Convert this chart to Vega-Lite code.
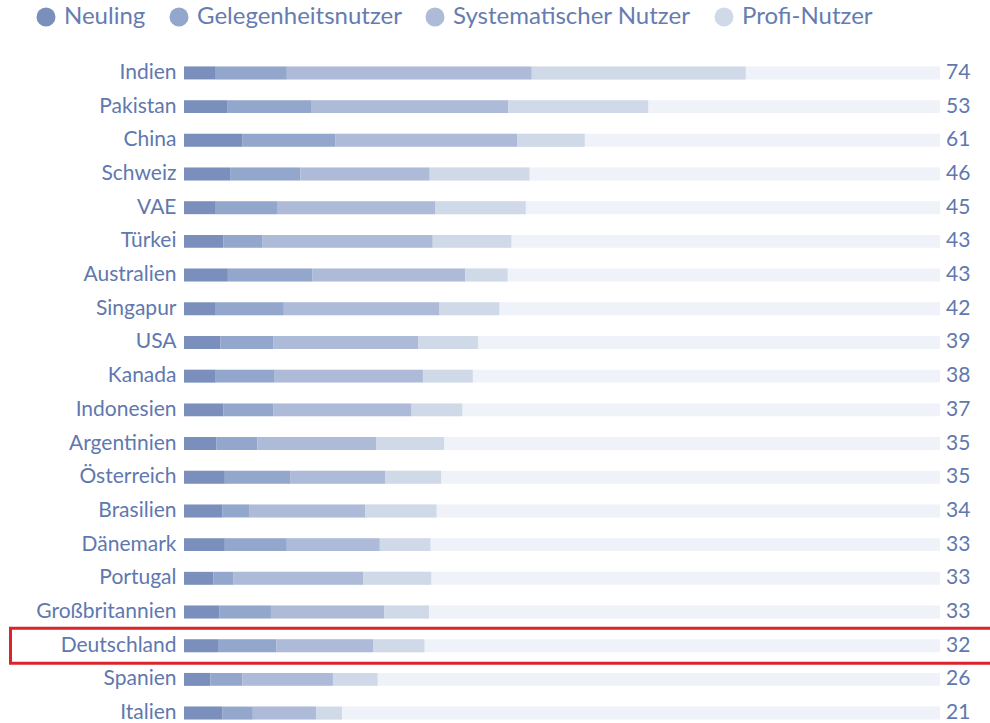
{
  "$schema": "https://vega.github.io/schema/vega-lite/v6.json",
  "autosize": {"type": "none"},
  "padding": {"left": 184, "top": 56, "right": 50, "bottom": 0},
  "width": 756,
  "height": 674,
  "background": "white",
  "config": {"view": {"stroke": null}, "font": "Lato"},
  "datasets": {
    "laender": [
      {"land": "Indien", "gesamt": 74},
      {"land": "Pakistan", "gesamt": 53},
      {"land": "China", "gesamt": 61},
      {"land": "Schweiz", "gesamt": 46},
      {"land": "VAE", "gesamt": 45},
      {"land": "Türkei", "gesamt": 43},
      {"land": "Australien", "gesamt": 43},
      {"land": "Singapur", "gesamt": 42},
      {"land": "USA", "gesamt": 39},
      {"land": "Kanada", "gesamt": 38},
      {"land": "Indonesien", "gesamt": 37},
      {"land": "Argentinien", "gesamt": 35},
      {"land": "Österreich", "gesamt": 35},
      {"land": "Brasilien", "gesamt": 34},
      {"land": "Dänemark", "gesamt": 33},
      {"land": "Portugal", "gesamt": 33},
      {"land": "Großbritannien", "gesamt": 33},
      {"land": "Deutschland", "gesamt": 32},
      {"land": "Spanien", "gesamt": 26},
      {"land": "Italien", "gesamt": 21}
    ],
    "werte": [
      {"land": "Indien", "stufe": 1, "typ": "Neuling", "wert": 4.1},
      {"land": "Indien", "stufe": 2, "typ": "Gelegenheitsnutzer", "wert": 9.5},
      {"land": "Indien", "stufe": 3, "typ": "Systematischer Nutzer", "wert": 32.4},
      {"land": "Indien", "stufe": 4, "typ": "Profi-Nutzer", "wert": 28.3},
      {"land": "Pakistan", "stufe": 1, "typ": "Neuling", "wert": 5.7},
      {"land": "Pakistan", "stufe": 2, "typ": "Gelegenheitsnutzer", "wert": 11.1},
      {"land": "Pakistan", "stufe": 3, "typ": "Systematischer Nutzer", "wert": 26.1},
      {"land": "Pakistan", "stufe": 4, "typ": "Profi-Nutzer", "wert": 18.5},
      {"land": "China", "stufe": 1, "typ": "Neuling", "wert": 7.7},
      {"land": "China", "stufe": 2, "typ": "Gelegenheitsnutzer", "wert": 12.3},
      {"land": "China", "stufe": 3, "typ": "Systematischer Nutzer", "wert": 24.1},
      {"land": "China", "stufe": 4, "typ": "Profi-Nutzer", "wert": 8.9},
      {"land": "Schweiz", "stufe": 1, "typ": "Neuling", "wert": 6.1},
      {"land": "Schweiz", "stufe": 2, "typ": "Gelegenheitsnutzer", "wert": 9.3},
      {"land": "Schweiz", "stufe": 3, "typ": "Systematischer Nutzer", "wert": 17.1},
      {"land": "Schweiz", "stufe": 4, "typ": "Profi-Nutzer", "wert": 13.2},
      {"land": "VAE", "stufe": 1, "typ": "Neuling", "wert": 4.1},
      {"land": "VAE", "stufe": 2, "typ": "Gelegenheitsnutzer", "wert": 8.2},
      {"land": "VAE", "stufe": 3, "typ": "Systematischer Nutzer", "wert": 20.9},
      {"land": "VAE", "stufe": 4, "typ": "Profi-Nutzer", "wert": 12.0},
      {"land": "Türkei", "stufe": 1, "typ": "Neuling", "wert": 5.2},
      {"land": "Türkei", "stufe": 2, "typ": "Gelegenheitsnutzer", "wert": 5.2},
      {"land": "Türkei", "stufe": 3, "typ": "Systematischer Nutzer", "wert": 22.5},
      {"land": "Türkei", "stufe": 4, "typ": "Profi-Nutzer", "wert": 10.4},
      {"land": "Australien", "stufe": 1, "typ": "Neuling", "wert": 5.8},
      {"land": "Australien", "stufe": 2, "typ": "Gelegenheitsnutzer", "wert": 11.2},
      {"land": "Australien", "stufe": 3, "typ": "Systematischer Nutzer", "wert": 20.2},
      {"land": "Australien", "stufe": 4, "typ": "Profi-Nutzer", "wert": 5.6},
      {"land": "Singapur", "stufe": 1, "typ": "Neuling", "wert": 4.1},
      {"land": "Singapur", "stufe": 2, "typ": "Gelegenheitsnutzer", "wert": 9.1},
      {"land": "Singapur", "stufe": 3, "typ": "Systematischer Nutzer", "wert": 20.6},
      {"land": "Singapur", "stufe": 4, "typ": "Profi-Nutzer", "wert": 7.9},
      {"land": "USA", "stufe": 1, "typ": "Neuling", "wert": 4.8},
      {"land": "USA", "stufe": 2, "typ": "Gelegenheitsnutzer", "wert": 7.0},
      {"land": "USA", "stufe": 3, "typ": "Systematischer Nutzer", "wert": 19.2},
      {"land": "USA", "stufe": 4, "typ": "Profi-Nutzer", "wert": 7.9},
      {"land": "Kanada", "stufe": 1, "typ": "Neuling", "wert": 4.2},
      {"land": "Kanada", "stufe": 2, "typ": "Gelegenheitsnutzer", "wert": 7.8},
      {"land": "Kanada", "stufe": 3, "typ": "Systematischer Nutzer", "wert": 19.6},
      {"land": "Kanada", "stufe": 4, "typ": "Profi-Nutzer", "wert": 6.6},
      {"land": "Indonesien", "stufe": 1, "typ": "Neuling", "wert": 5.2},
      {"land": "Indonesien", "stufe": 2, "typ": "Gelegenheitsnutzer", "wert": 6.6},
      {"land": "Indonesien", "stufe": 3, "typ": "Systematischer Nutzer", "wert": 18.3},
      {"land": "Indonesien", "stufe": 4, "typ": "Profi-Nutzer", "wert": 6.7},
      {"land": "Argentinien", "stufe": 1, "typ": "Neuling", "wert": 4.3},
      {"land": "Argentinien", "stufe": 2, "typ": "Gelegenheitsnutzer", "wert": 5.4},
      {"land": "Argentinien", "stufe": 3, "typ": "Systematischer Nutzer", "wert": 15.7},
      {"land": "Argentinien", "stufe": 4, "typ": "Profi-Nutzer", "wert": 9.0},
      {"land": "Österreich", "stufe": 1, "typ": "Neuling", "wert": 5.4},
      {"land": "Österreich", "stufe": 2, "typ": "Gelegenheitsnutzer", "wert": 8.7},
      {"land": "Österreich", "stufe": 3, "typ": "Systematischer Nutzer", "wert": 12.5},
      {"land": "Österreich", "stufe": 4, "typ": "Profi-Nutzer", "wert": 7.4},
      {"land": "Brasilien", "stufe": 1, "typ": "Neuling", "wert": 5.1},
      {"land": "Brasilien", "stufe": 2, "typ": "Gelegenheitsnutzer", "wert": 3.5},
      {"land": "Brasilien", "stufe": 3, "typ": "Systematischer Nutzer", "wert": 15.4},
      {"land": "Brasilien", "stufe": 4, "typ": "Profi-Nutzer", "wert": 9.4},
      {"land": "Dänemark", "stufe": 1, "typ": "Neuling", "wert": 5.4},
      {"land": "Dänemark", "stufe": 2, "typ": "Gelegenheitsnutzer", "wert": 8.2},
      {"land": "Dänemark", "stufe": 3, "typ": "Systematischer Nutzer", "wert": 12.3},
      {"land": "Dänemark", "stufe": 4, "typ": "Profi-Nutzer", "wert": 6.7},
      {"land": "Portugal", "stufe": 1, "typ": "Neuling", "wert": 3.9},
      {"land": "Portugal", "stufe": 2, "typ": "Gelegenheitsnutzer", "wert": 2.6},
      {"land": "Portugal", "stufe": 3, "typ": "Systematischer Nutzer", "wert": 17.2},
      {"land": "Portugal", "stufe": 4, "typ": "Profi-Nutzer", "wert": 9.0},
      {"land": "Großbritannien", "stufe": 1, "typ": "Neuling", "wert": 4.7},
      {"land": "Großbritannien", "stufe": 2, "typ": "Gelegenheitsnutzer", "wert": 6.8},
      {"land": "Großbritannien", "stufe": 3, "typ": "Systematischer Nutzer", "wert": 15.0},
      {"land": "Großbritannien", "stufe": 4, "typ": "Profi-Nutzer", "wert": 5.9},
      {"land": "Deutschland", "stufe": 1, "typ": "Neuling", "wert": 4.5},
      {"land": "Deutschland", "stufe": 2, "typ": "Gelegenheitsnutzer", "wert": 7.7},
      {"land": "Deutschland", "stufe": 3, "typ": "Systematischer Nutzer", "wert": 12.8},
      {"land": "Deutschland", "stufe": 4, "typ": "Profi-Nutzer", "wert": 6.8},
      {"land": "Spanien", "stufe": 1, "typ": "Neuling", "wert": 3.5},
      {"land": "Spanien", "stufe": 2, "typ": "Gelegenheitsnutzer", "wert": 4.2},
      {"land": "Spanien", "stufe": 3, "typ": "Systematischer Nutzer", "wert": 12.0},
      {"land": "Spanien", "stufe": 4, "typ": "Profi-Nutzer", "wert": 5.9},
      {"land": "Italien", "stufe": 1, "typ": "Neuling", "wert": 5.1},
      {"land": "Italien", "stufe": 2, "typ": "Gelegenheitsnutzer", "wert": 4.0},
      {"land": "Italien", "stufe": 3, "typ": "Systematischer Nutzer", "wert": 8.4},
      {"land": "Italien", "stufe": 4, "typ": "Profi-Nutzer", "wert": 3.4}
    ]
  },
  "layer": [
    {
      "data": {"name": "laender"},
      "mark": {"type": "bar", "color": "#eff2f8", "cornerRadius": 0},
      "encoding": {
        "y": {
          "field": "land", "type": "nominal",
          "sort": ["Indien","Pakistan","China","Schweiz","VAE","Türkei","Australien","Singapur","USA","Kanada","Indonesien","Argentinien","Österreich","Brasilien","Dänemark","Portugal","Großbritannien","Deutschland","Spanien","Italien"],
          "scale": {"type": "band", "paddingInner": 0.616, "paddingOuter": 0.31},
          "axis": {"title": null, "ticks": false, "domain": false, "labelFontSize": 21, "labelColor": "#6078ae", "labelPadding": 8, "labelFont": "Lato"}
        },
        "x": {"datum": 100, "type": "quantitative", "scale": {"domain": [0, 100], "nice": false, "zero": true}, "axis": null}
      }
    },
    {
      "data": {"name": "werte"},
      "mark": {"type": "bar"},
      "encoding": {
        "y": {"field": "land", "type": "nominal", "sort": ["Indien","Pakistan","China","Schweiz","VAE","Türkei","Australien","Singapur","USA","Kanada","Indonesien","Argentinien","Österreich","Brasilien","Dänemark","Portugal","Großbritannien","Deutschland","Spanien","Italien"]},
        "x": {"field": "wert", "type": "quantitative", "stack": "zero", "axis": null},
        "order": {"field": "stufe", "type": "quantitative"},
        "color": {
          "field": "typ", "type": "nominal",
          "sort": ["Neuling", "Gelegenheitsnutzer", "Systematischer Nutzer", "Profi-Nutzer"],
          "scale": {"domain": ["Neuling", "Gelegenheitsnutzer", "Systematischer Nutzer", "Profi-Nutzer"], "range": ["#7a8fbc", "#93a6cb", "#adbbd8", "#d0d9e8"]},
          "legend": {
            "orient": "none", "legendX": -150, "legendY": -51, "direction": "horizontal",
            "title": null, "symbolType": "circle", "symbolSize": 361, "symbolStrokeWidth": 0,
            "symbolOpacity": 1, "labelFontSize": 24, "labelColor": "#667cb1", "labelFont": "Lato",
            "labelOffset": 6, "columnPadding": 21, "labelLimit": 0
          }
        }
      }
    },
    {
      "data": {"name": "laender"},
      "mark": {"type": "text", "align": "left", "baseline": "middle", "dx": 6, "fontSize": 21, "color": "#6078ae", "font": "Lato"},
      "encoding": {
        "y": {"field": "land", "type": "nominal", "sort": ["Indien","Pakistan","China","Schweiz","VAE","Türkei","Australien","Singapur","USA","Kanada","Indonesien","Argentinien","Österreich","Brasilien","Dänemark","Portugal","Großbritannien","Deutschland","Spanien","Italien"]},
        "x": {"datum": 100, "type": "quantitative"},
        "text": {"field": "gesamt", "type": "quantitative"}
      }
    },
    {
      "data": {"name": "laender"},
      "transform": [{"filter": "datum.land === 'Deutschland'"}],
      "mark": {"type": "bar", "size": 35, "fill": "transparent", "stroke": "#d8262c", "strokeWidth": 3},
      "encoding": {
        "y": {"field": "land", "type": "nominal", "sort": ["Indien","Pakistan","China","Schweiz","VAE","Türkei","Australien","Singapur","USA","Kanada","Indonesien","Argentinien","Österreich","Brasilien","Dänemark","Portugal","Großbritannien","Deutschland","Spanien","Italien"]},
        "x": {"datum": -22.95, "type": "quantitative"},
        "x2": {"datum": 108}
      }
    }
  ]
}
